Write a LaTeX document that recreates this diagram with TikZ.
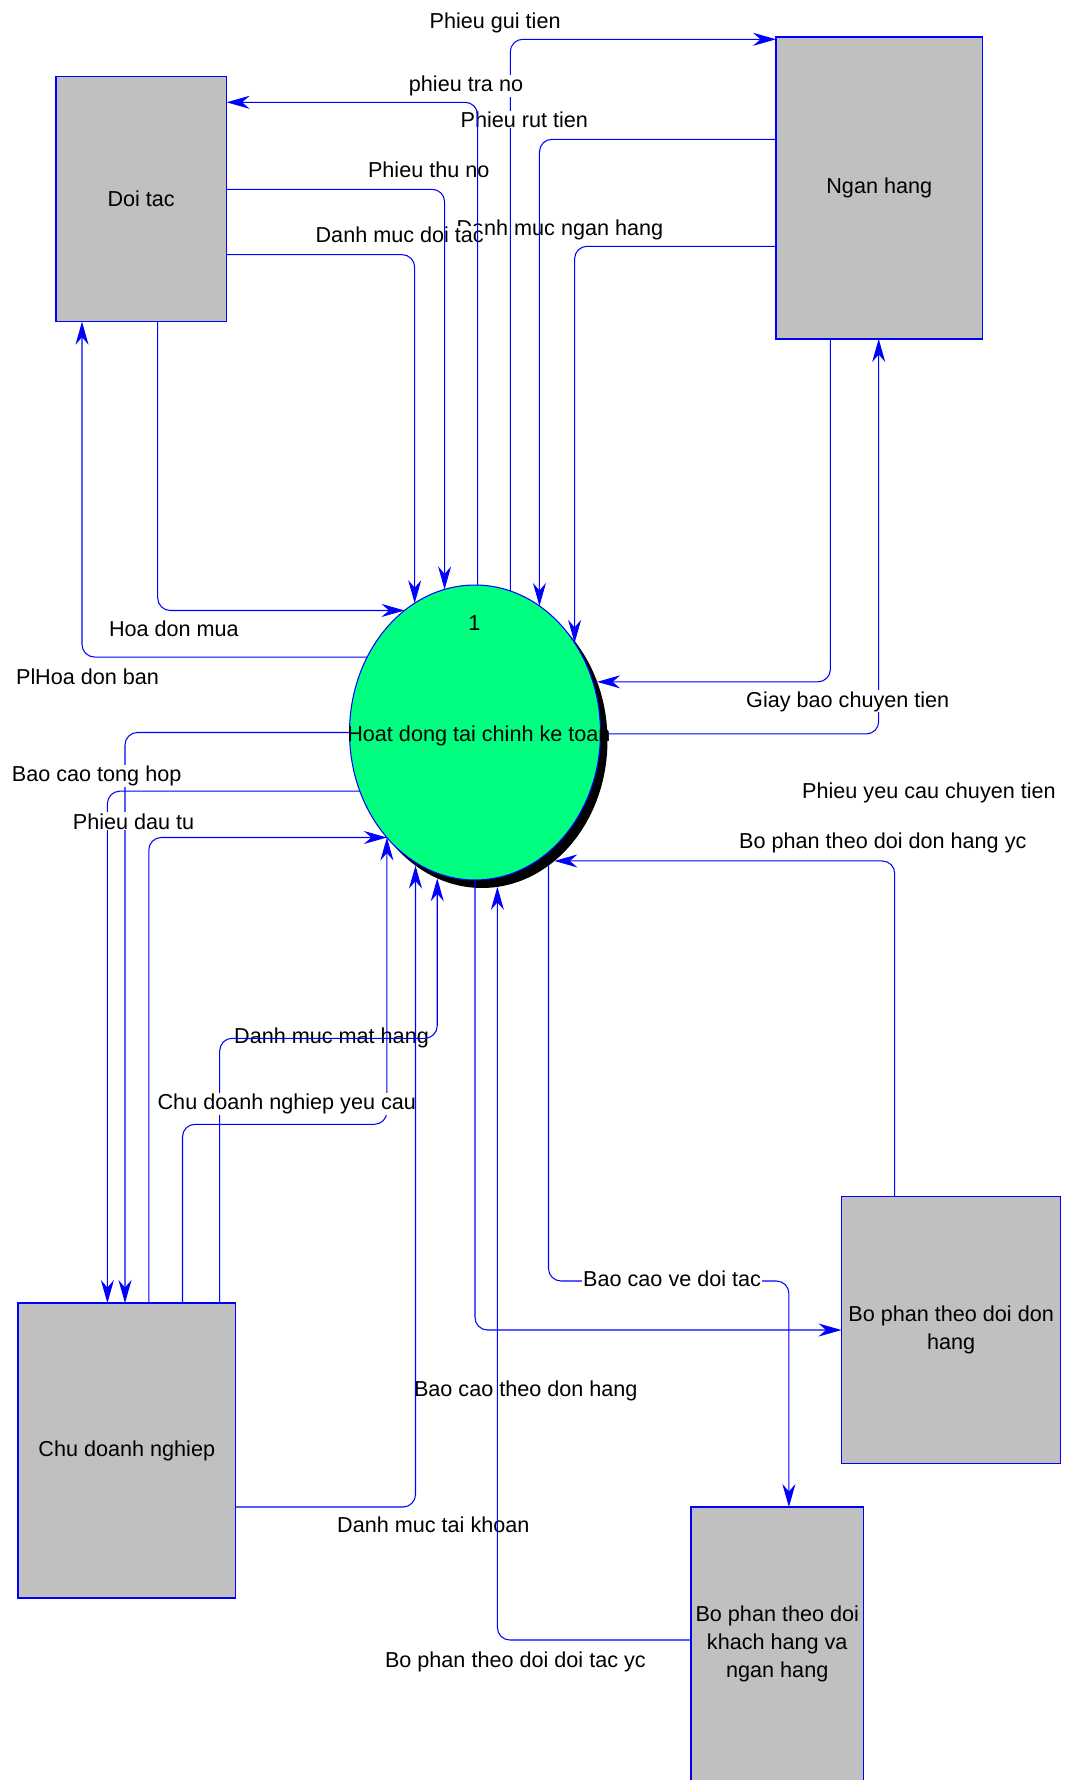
\documentclass[tikz,border=0pt]{standalone}
\usepackage{fontspec}
\setmainfont{Liberation Sans}
\usepackage{tikz}
\usetikzlibrary{shapes.geometric,arrows.meta}
\definecolor{boxgray}{RGB}{192,192,192}
\definecolor{procgreen}{RGB}{0,255,128}

\begin{document}
\begin{tikzpicture}[x=0.02cm, y=-0.02cm,
    every node/.style={font=\fontsize{12.3}{15.9}\selectfont},
    entity/.style={draw=blue, fill=boxgray, line width=0.8pt, align=center, inner sep=0pt, outer sep=0pt},
    proc/.style={ellipse, minimum width=5.02cm, minimum height=5.9cm, inner sep=0pt, outer sep=0pt},
    flow/.style={draw=blue, line width=0.6pt, rounded corners=0.25cm,
       -{Stealth[length=0.46cm, width=0.26cm, inset=0.15cm]}},
    lbl/.style={anchor=base west, inner sep=0.5pt},
    lblw/.style={lbl, fill=white}]
  \useasboundingbox (0,0) rectangle (1065,1780);

  \node[entity, minimum width=3.416cm, minimum height=4.9cm]   (doitac)   at (141.2,199.2) {Doi tac};
  \node[entity, minimum width=4.13cm,  minimum height=6.04cm]  (nganhang) at (879.25,188)  {Ngan hang};
  \node[entity, minimum width=4.356cm, minimum height=5.9cm]   (chudn)    at (126.8,1450.5) {Chu doanh nghiep};
  \node[entity, minimum width=4.384cm, minimum height=5.336cm] (bptddh)   at (951.1,1330)  {Bo phan theo doi don\\hang};
  \node[entity, minimum width=3.45cm,  minimum height=5.48cm]  (bptdkh)   at (777.25,1644) {Bo phan theo doi\\khach hang va\\ngan hang};

  \node[proc, fill=black] (procshadow) at (482,740.5) {};
  \node[proc, draw=blue, fill=procgreen, line width=0.6pt] (proc) at (475,732.5) {};
  \node[anchor=base] (procnum) at (474.5,630.7) {1};
  \node[anchor=base west, inner sep=0pt] (proctext) at (347,741) {Hoat dong tai chinh ke toan};

  \node[lbl]  (ldmnh)   at (455.3,235.3) {Danh muc ngan hang};
  \node[lblw] (ldmdt)   at (314.4,243)   {Danh muc doi tac};
  \node[lbl]  (lthuno)  at (366.8,178)   {Phieu thu no};
  \node[lbl]  (lguitien) at (428.4,29)   {Phieu gui tien};
  \node[lbl]  (lhdmua)  at (107.8,636.3) {Hoa don mua};
  \node[lbl]  (lycct)   at (801,798.7)   {Phieu yeu cau chuyen tien};
  \node[lbl]  (lddhyc)  at (738,848)     {Bo phan theo doi don hang yc};
  \node[lbl]  (ldmmh)   at (233,1043.7)  {Danh muc mat hang};
  \node[lbl]  (lbcdh)   at (412.8,1396.6) {Bao cao theo don hang};
  \node[lbl]  (ldmtk)   at (336,1532.5)  {Danh muc tai khoan};
  \node[lbl]  (lddtyc)  at (383.8,1667)  {Bo phan theo doi doi tac yc};

  \draw[flow] (proc.76) |- (nganhang.west |- 0,39.3);
  \node[lblw] (ltrano)  at (407.7,91.3)  {phieu tra no};
  \node[lblw] (lruttien) at (459.4,127.3) {Phieu rut tien};

  \draw[flow] (doitac.east |- 0,254.7) -| (proc.115.5);
  \draw[flow] (doitac.east |- 0,189.3) -| (proc.102.45);
  \draw[flow] (proc.89) |- (doitac.east |- 0,102.3);
  \draw[flow] (nganhang.west |- 0,139.3) -| (proc.63.5);
  \draw[flow] (nganhang.west |- 0,246.3) -| (proc.42.05);
  \draw[flow] (doitac.south -| 157.7,0) |- (proc.120.37);
  \draw[flow] (proc.145.96) -| (doitac.south -| 82,0);
  \draw[flow] (nganhang.south -| 830.4,0) |- (procshadow.27.5);
  \draw[flow] (procshadow.3.4) -| (nganhang.south -| 878.7,0);
  \draw[flow] (proc.west) -| (chudn.north -| 125,0);
  \draw[flow] (proc.207.5) -| (chudn.north -| 107.4,0);
  \draw[flow] (chudn.north -| 148.8,0) |- (proc.230.7);
  \draw[flow] (chudn.north -| 182.5,0) -- (182.5,1124.3) -| (proc.230.9);
  \draw[flow] (chudn.north -| 219.7,0) -- (219.7,1038.3) -| (procshadow.252.9);
  \draw[flow] (bptdkh.west |- 0,1640) -| (procshadow.276.04);
  \draw[flow] (proc.south) |- (bptddh.west);
  \draw[flow] (procshadow.298.4) |- (788.9,1281) -- (bptdkh.north -| 788.9,0);
  \draw[flow] (bptddh.north -| 894.7,0) |- (procshadow.301.9);

  \node[lbl]  (lph)     at (15,684.7)    {Ph};
  \node[lblw] (lhdban)  at (34,684.7)    {Hoa don ban};
  \node[lblw] (lbcth)   at (10.7,781.3)  {Bao cao tong hop};
  \node[lblw] (ldautu)  at (71.7,829)    {Phieu dau tu};
  \node[lblw] (lgiaybao) at (745,707)    {Giay bao chuyen tien};
  \node[lblw] (lcdnyc)  at (156.4,1109.7) {Chu doanh nghiep yeu cau};
  \node[lblw] (lbcdt)   at (582,1286.6)  {Bao cao ve doi tac};

  \draw[flow] (chudn.east |- 0,1507) -| (procshadow.242.75);
\end{tikzpicture}
\end{document}
